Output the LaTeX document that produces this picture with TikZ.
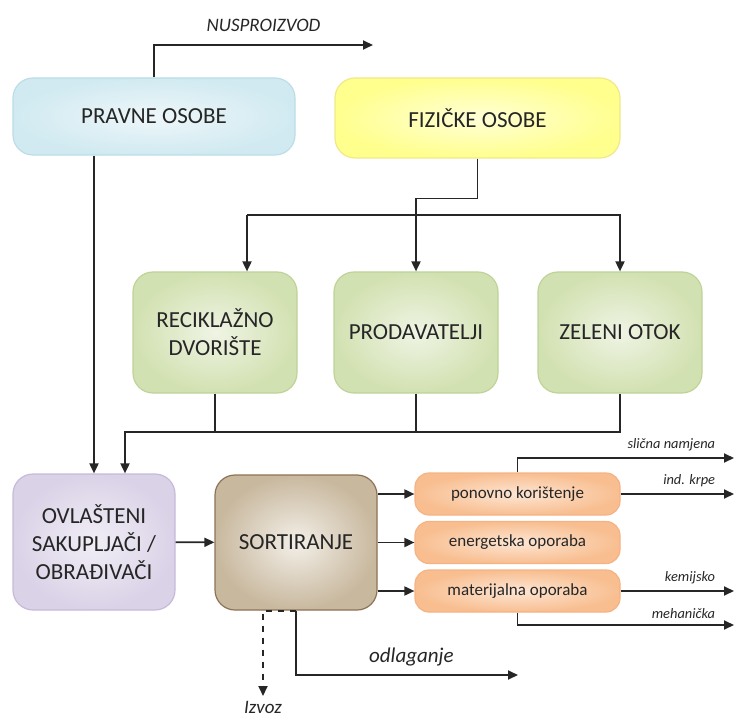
\documentclass[tikz,border=0pt]{standalone}
\usepackage{fontspec}
\setmainfont{Carlito}
\usepackage{tikz}
\usetikzlibrary{arrows.meta,
    positioning}

\definecolor{plavaR}{HTML}{BCDDE8}
\definecolor{plavaV}{HTML}{D1EAF1}
\definecolor{plavaU}{HTML}{EEF7FA}
\definecolor{zutaR}{HTML}{F0E88A}
\definecolor{zutaV}{HTML}{FFFF8E}
\definecolor{zutaU}{HTML}{FFFFD6}
\definecolor{zelenaR}{HTML}{BFD398}
\definecolor{zelenaV}{HTML}{D2E1B1}
\definecolor{zelenaU}{HTML}{EFF4E4}
\definecolor{ljubR}{HTML}{C6BAD9}
\definecolor{ljubV}{HTML}{DAD2E7}
\definecolor{ljubU}{HTML}{F1EEF6}
\definecolor{smedaR}{HTML}{8E7256}
\definecolor{smedaV}{HTML}{C8B89E}
\definecolor{smedaU}{HTML}{F3EFE8}
\definecolor{narR}{HTML}{F5B383}
\definecolor{narV}{HTML}{F8BE90}
\definecolor{narU}{HTML}{FDE6D4}
\definecolor{tekst}{HTML}{262626}

\tikzset{
    kutija/.style={rounded corners=10pt, line width=0.6pt, align=center,
        text=tekst, font=\fontsize{11.5}{14}\selectfont, inner sep=2pt},
    pravna/.style={kutija, draw=plavaR, shading=radial, inner color=plavaU,
        outer color=plavaV, minimum width=141pt, minimum height=38.5pt},
    fizicka/.style={kutija, draw=zutaR, shading=radial, inner color=zutaU,
        outer color=zutaV, minimum width=142.5pt, minimum height=40pt},
    zelena/.style={kutija, draw=zelenaR, shading=radial, inner color=zelenaU,
        outer color=zelenaV, minimum width=82pt, minimum height=60.5pt},
    ovlasteni/.style={kutija, draw=ljubR, shading=radial, inner color=ljubU,
        outer color=ljubV, minimum width=81pt, minimum height=68pt},
    sort/.style={kutija, draw=smedaR, shading=radial, inner color=smedaU,
        outer color=smedaV, minimum width=81pt, minimum height=67.5pt},
    oporaba/.style={kutija, rounded corners=7pt, draw=narR, shading=radial,
        inner color=narU, outer color=narV, minimum width=102.5pt,
        minimum height=21pt, font=\fontsize{8.5}{10}\selectfont},
    tok/.style={draw=black!85, line width=0.9pt,
        -{Triangle[length=5pt,width=4.5pt]}},
    crta/.style={draw=black!85, line width=0.9pt},
    oznaka/.style={text=tekst, font=\fontsize{7.2}{9}\selectfont\itshape,
        inner sep=1pt},
    desno/.style={oznaka, anchor=south east, xshift=-8pt, yshift=2pt}
}

\begin{document}
\begin{tikzpicture}[x=0.5pt, y=-0.5pt]
    \useasboundingbox (0,0) rectangle (737,726);

    % izvori otpada
    \node[pravna] (pravne) at (154,116.5) {PRAVNE OSOBE};
    \node[fizicka] (fizicke) at (477.5,118) {FIZIČKE OSOBE};

    % mjesta predaje
    \node[zelena] (reciklazno) at (215,332.5) {RECIKLAŽNO\\DVORIŠTE};
    \node[zelena] (prodavatelji) at (416,332.5) {PRODAVATELJI};
    \node[zelena] (zeleni) at (620,332.5) {ZELENI OTOK};

    % obrada
    \node[ovlasteni] (ovlasteni) at (94,542) {OVLAŠTENI\\SAKUPLJAČI /\\OBRAĐIVAČI};
    \node[sort] (sortiranje) at (296,542.5) {SORTIRANJE};
    \node[oporaba] (ponovno) at (517.5,494) {ponovno korištenje};
    \node[oporaba] (energetska) at (517.5,542.5) {energetska oporaba};
    \node[oporaba] (materijalna) at (517.5,591) {materijalna oporaba};

    % slobodni krajevi
    \coordinate (nus) at (373,45);
    \coordinate (fsab) at (247,215);
    \coordinate (sab) at (125,432);
    \coordinate (slicna) at (734,458);
    \coordinate (krpe) at (734,494);
    \coordinate (kemijsko) at (734,591);
    \coordinate (mehanicka) at (734,625);
    \coordinate (odlaganje) at (518,675);
    \coordinate (izvoz) at (263,696);

    % veze
    \draw[tok] (pravne.north) -- (pravne.north |- nus) -- (nus)
        node[oznaka, pos=0.5, above=5pt, font=\fontsize{9.5}{11}\selectfont\itshape] {NUSPROIZVOD};
    \draw[tok] (pravne.south -| 94,0) -- (ovlasteni.north);
    \draw[tok] (fizicke.south) -- ++(0,40) -| (prodavatelji.north);
    \draw[tok] (fsab) -- (fsab |- reciklazno.north);
    \draw[tok] (fsab) -| (zeleni.north);
    \draw[crta] (reciklazno.south) -- (reciklazno.south |- sab);
    \draw[crta] (prodavatelji.south) -- (prodavatelji.south |- sab);
    \draw[tok] (zeleni.south) |- (sab) -- (sab |- ovlasteni.north);
    \draw[tok] (ovlasteni) -- (sortiranje);
    \draw[tok] (sortiranje.east |- ponovno) -- (ponovno);
    \draw[tok] (sortiranje) -- (energetska);
    \draw[tok] (sortiranje.east |- materijalna) -- (materijalna);
    \draw[tok] (ponovno.north) |- (slicna)
        node[desno] {slična namjena};
    \draw[tok] (ponovno) -- (krpe)
        node[desno] {ind. krpe};
    \draw[tok] (materijalna) -- (kemijsko)
        node[desno] {kemijsko};
    \draw[tok] (materijalna.south) |- (mehanicka)
        node[desno] {mehanička};
    \draw[tok] (sortiranje.south) |- (odlaganje)
        node[oznaka, pos=0.76, above=3pt, font=\fontsize{10.5}{12}\selectfont\itshape] {odlaganje};
    \draw[tok, dashed] (sortiranje.south) -| (izvoz)
        node[oznaka, below=1pt, font=\fontsize{9.5}{11}\selectfont\itshape] {Izvoz};
\end{tikzpicture}
\end{document}
